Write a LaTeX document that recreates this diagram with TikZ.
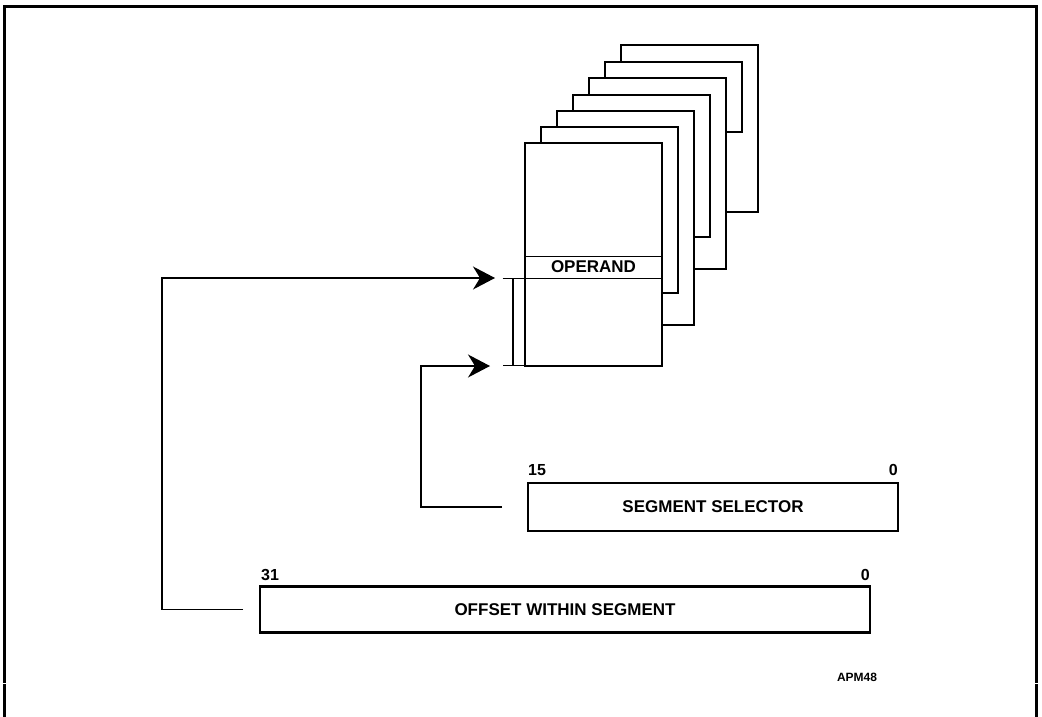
\documentclass[tikz,border=0pt]{standalone}
\usepackage{fontspec}
\setmainfont{Liberation Sans}
\usetikzlibrary{calc,arrows.meta,positioning}
\tikzset{sheet/.style={draw, line width=2.2pt, fill=white, anchor=north west, inner sep=0pt, outer sep=0pt, minimum width=137pt},
  regbox/.style={draw, line width=2.2pt, fill=white, minimum height=46pt, inner sep=0pt, outer sep=0pt, font=\fontsize{17}{20}\selectfont\bfseries},
  bitno/.style={inner sep=0pt, font=\fontsize{16}{18}\selectfont\bfseries},
  conn/.style={line width=1.3pt, -{Stealth[length=22pt,width=23pt,inset=7pt]}},
  frame/.style={line width=3pt}}

\begin{document}
\begin{tikzpicture}[x=1pt,y=-1pt]
    \useasboundingbox (0,0) rectangle (1042,717);
    % outer frame
    \draw[frame] (4,682.5) -- (4,7) -- (1036,7) -- (1036,682.5);
    \draw[frame] (4,684) -- (4,717) (1036,684) -- (1036,717);
    % stack of segments, back to front
    \node[sheet, minimum height=167pt] (S7) at (621,45) {};
    \node[sheet, minimum height=70pt] (S6) at (605,62) {};
    \node[sheet, minimum height=191pt] (S5) at (589,78) {};
    \node[sheet, minimum height=142pt] (S4) at (573,95) {};
    \node[sheet, minimum height=214pt] (S3) at (557,111) {};
    \node[sheet, minimum height=166pt] (S2) at (541,127) {};
    \node[sheet, minimum height=223pt] (S1) at (525,143) {};
    \node[draw, line width=1pt, minimum width=137pt, minimum height=22pt, inner sep=0pt, outer sep=0pt, font=\fontsize{17}{20}\selectfont\bfseries] (opnd) at (593.5,267) {OPERAND};
    \coordinate (btop) at ($(opnd.south west)+(-12,0)$);
    \coordinate (bbot) at ($(S1.south west)+(-12,0)$);
    \draw[line width=1.3pt, {Bar[width=21pt]}-{Bar[width=21pt]}] (btop) -- (bbot);
    % address parts
    \node[regbox, minimum width=370pt, minimum height=48pt] (selector) at (713,507) {SEGMENT SELECTOR};
    \node[regbox, minimum width=610pt] (offset) at (565,609.5) {OFFSET WITHIN SEGMENT};
    \node[bitno, above right=7pt and 0pt of selector.north west] (sel15) {15};
    \node[bitno, above left=7pt and 0pt of selector.north east] (sel0) {0};
    \node[bitno, above right=6pt and 1pt of offset.north west] (off31) {31};
    \node[bitno, above left=6pt and 0pt of offset.north east] (off0) {0};
    \node[inner sep=0pt, font=\fontsize{12}{14}\selectfont\bfseries] (apm) at (857,677) {APM48};
    \draw[conn] ($(offset.west)+(-17,0)$) -- ++(-81,0) |- ($(btop)+(-18,0)$);
    \draw[conn] ($(selector.west)+(-26,0)$) -- ++(-81,0) |- ($(bbot)+(-23,0)$);
\end{tikzpicture}
\end{document}
